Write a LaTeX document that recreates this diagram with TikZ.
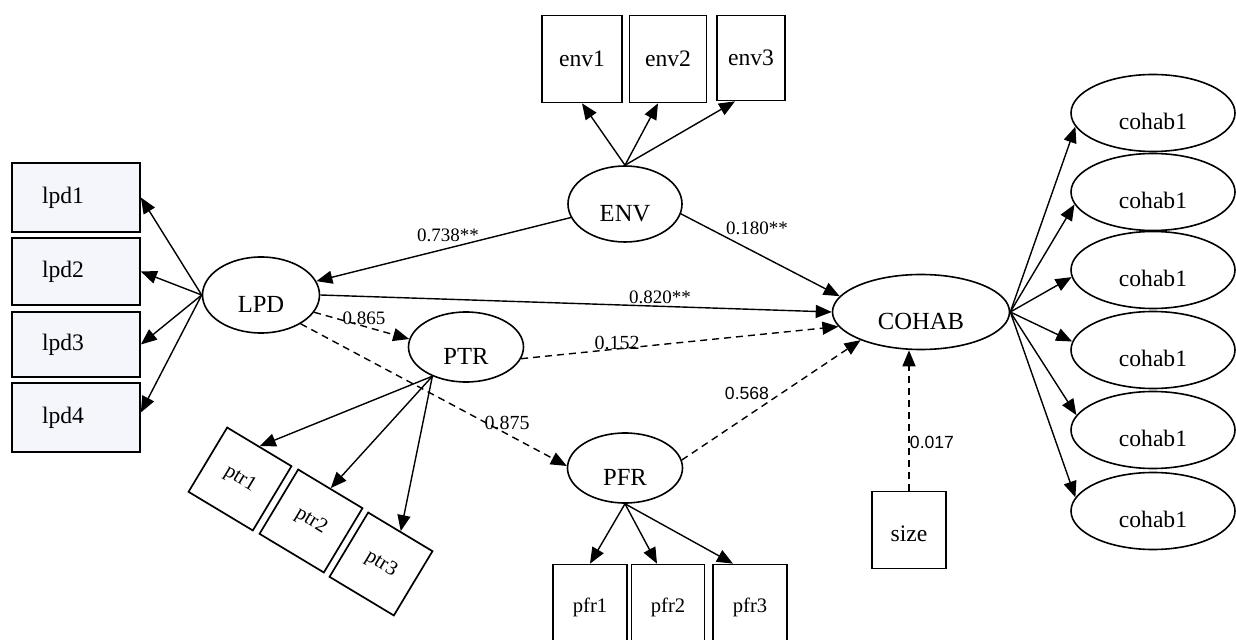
\documentclass[tikz,border=0pt]{standalone}
\usepackage{fontspec}
\setmainfont{Liberation Serif}
\newfontfamily\lsans{Liberation Sans}
\usetikzlibrary{shapes.geometric,arrows.meta,calc}
\tikzset{
  lat/.style={ellipse,draw,line width=0.8pt,inner sep=0pt,font=\fontsize{12.3}{12.3}\selectfont,text height=18pt,text depth=0pt},
  ind/.style={ellipse,draw,line width=0.8pt,inner sep=0pt,minimum width=82pt,minimum height=38.5pt,font=\fontsize{11.8}{11.8}\selectfont,text height=17pt,text depth=0pt},
  obs/.style={rectangle,draw,line width=0.85pt,inner sep=0pt,fill=white,font=\fontsize{11.8}{11.8}\selectfont},
  lpdbox/.style={obs,fill={rgb,255:red,244;green,246;blue,251},text width=34pt,align=left,inner xsep=15pt,minimum width=64pt},
  arr/.style={line width=0.7pt,-{Triangle[length=8pt,width=6.5pt]}},
  darr/.style={arr,dash pattern=on 3.5pt off 2.5pt},
  coef/.style={inner sep=0pt,font=\fontsize{9.5}{9.5}\selectfont},
  scoef/.style={inner sep=0pt,font=\lsans\fontsize{8.8}{8.8}\selectfont},
}
\begin{document}
\begin{tikzpicture}[x=0.5pt,y=-0.5pt]
\useasboundingbox (0,0) rectangle (1236,640);
\fill[white] (0,0) rectangle (1236,640);
\clip (0,0) rectangle (1236,640);

% latent variables
\node[lat,minimum width=57pt,minimum height=38pt] (ENV) at (625,204) {ENV};
\node[lat,minimum width=58.5pt,minimum height=38pt] (LPD) at (261,295) {LPD};
\node[lat,minimum width=57.5pt,minimum height=35pt] (PTR) at (466,347) {PTR};
\node[lat,minimum width=57.5pt,minimum height=35pt] (PFR) at (625,468) {PFR};
\node[lat,minimum width=88.5pt,minimum height=37.5pt] (COHAB) at (921,312) {COHAB};

% env indicators
\node[obs,minimum width=40pt,minimum height=43.5pt] (env1) at (582,59) {env1};
\node[obs,minimum width=38.5pt,minimum height=43.5pt] (env2) at (668,59) {env2};
\node[obs,minimum width=34pt,minimum height=42.5pt] (env3) at (751,58) {env3};

% lpd indicators
\node[lpdbox,minimum height=34.5pt] (lpd1) at (76,197.5) {lpd1};
\node[lpdbox,minimum height=33.5pt] (lpd2) at (76,271.5) {lpd2};
\node[lpdbox,minimum height=32.5pt] (lpd3) at (76,344.5) {lpd3};
\node[lpdbox,minimum height=34.5pt] (lpd4) at (76,417.5) {lpd4};

% ptr indicators
\node[obs,minimum width=37.5pt,minimum height=37.5pt,rotate=-31,font=\fontsize{10.3}{10.3}\selectfont] (ptr1) at (240,479) {ptr1};
\node[obs,minimum width=37.5pt,minimum height=37.5pt,rotate=-31,font=\fontsize{10.3}{10.3}\selectfont] (ptr2) at (311,521) {ptr2};
\node[obs,minimum width=37.5pt,minimum height=37.5pt,rotate=-31,font=\fontsize{10.3}{10.3}\selectfont] (ptr3) at (381,564) {ptr3};

% pfr indicators
\node[obs,minimum width=37pt,minimum height=42.5pt,font=\fontsize{10.3}{10.3}\selectfont] (pfr1) at (590,607) {pfr1};
\node[obs,minimum width=36.5pt,minimum height=42.5pt,font=\fontsize{10.3}{10.3}\selectfont] (pfr2) at (668,607) {pfr2};
\node[obs,minimum width=37pt,minimum height=42.5pt,font=\fontsize{10.3}{10.3}\selectfont] (pfr3) at (750,607) {pfr3};

% size
\node[obs,minimum width=37pt,minimum height=38.5pt,text height=12pt,text depth=0pt] (size) at (909,530) {size};

% cohab indicators
\node[ind] (c1) at (1153,113) {cohab1};
\node[ind] (c2) at (1153,192) {cohab1};
\node[ind] (c3) at (1153,270) {cohab1};
\node[ind] (c4) at (1153,350) {cohab1};
\node[ind] (c5) at (1153,430) {cohab1};
\node[ind] (c6) at (1153,511) {cohab1};

% measurement arrows
\draw[arr] (ENV.north) -- (env1.south);
\draw[arr] (ENV.north) -- ($(env2.south)+(-10,0)$);
\draw[arr] (ENV.north) -- ($(env3.south)+(-16,0)$);

\draw[arr] (LPD.west) -- (lpd1.east);
\draw[arr] (LPD.west) -- (lpd2.east);
\draw[arr] (LPD.west) -- (lpd3.east);
\draw[arr] (LPD.west) -- ($(lpd4.east)+(0,-5)$);

\draw[arr] (PTR.221) -- (ptr1.north);
\draw[arr] (PTR.221) -- (ptr2.north);
\draw[arr] (PTR.221) -- (ptr3.north);

\draw[arr] (PFR.south) -- (pfr1.north);
\draw[arr] (PFR.south) -- ($(pfr2.north)+(-11,0)$);
\draw[arr] (PFR.south) -- ($(pfr3.north)+(-17,0)$);

\draw[arr] (COHAB.east) -- (c1.190);
\draw[arr] (COHAB.east) -- (c2.189);
\draw[arr] (COHAB.east) -- (c3.185);
\draw[arr] (COHAB.east) -- (c4.174);
\draw[arr] (COHAB.east) -- (c5.169);
\draw[arr] (COHAB.east) -- (c6.170);

% structural paths
\draw[arr] (ENV) -- (LPD);
\draw[arr] (ENV.-10) -- (COHAB.169);
\draw[arr] (LPD.east) -- (COHAB.west);
\draw[darr] (LPD.-18) -- (PTR.172);
\draw[darr] (LPD.-36) -- (PFR.178);
\draw[darr] (PTR.-12) -- (COHAB.190);
\draw[darr] (PFR.8) -- (COHAB.205);
\draw[darr] (size.north) -- (COHAB.south -| size.north);

% coefficients
\node[coef] (k1) at (448,235) {0.738**};
\node[coef] (k2) at (757,228) {0.180**};
\node[coef] (k3) at (660,297) {0.820**};
\node[coef] (k4) at (364,318) {0.865};
\node[coef,font=\fontsize{10}{10}\selectfont] (k5) at (617,343) {0.152};
\node[coef,font=\fontsize{10}{10}\selectfont] (k6) at (507,423) {0.875};
\node[scoef] (k7) at (747,393) {0.568};
\node[scoef] (k8) at (932,442) {0.017};
\end{tikzpicture}
\end{document}
